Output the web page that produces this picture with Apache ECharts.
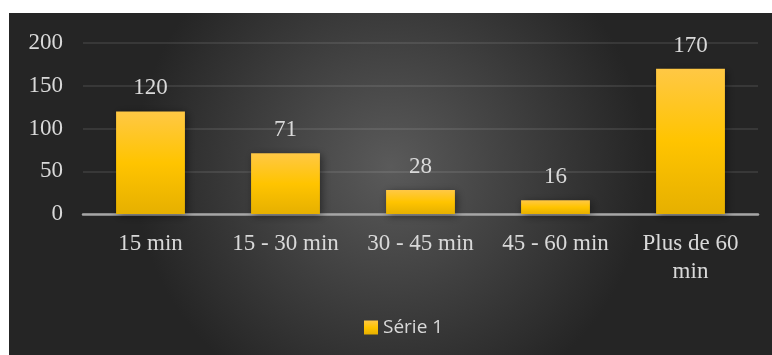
<!DOCTYPE html>
<html>
<head>
<meta charset="utf-8">
<script src="https://cdn.jsdelivr.net/npm/echarts@6/dist/echarts.min.js"></script>
<style>
html,body{margin:0;padding:0;background:#ffffff;}
#chart{width:772px;height:355px;}
</style>
</head>
<body>
<div id="chart"></div>
<script>
const categories = ['15 min', '15 - 30 min', '30 - 45 min', '45 - 60 min', 'Plus de 60\nmin'];
const serieName = 'Série 1';
const serieValues = [120, 71, 28, 16, 170];
const yTicks = { min: 0, max: 200, interval: 50 };

const chart = echarts.init(document.getElementById('chart'), null, { renderer: 'canvas' });
const textColor = '#d9d9d9';
const serif = '"Liberation Serif", "Times New Roman", serif';

chart.setOption({
  backgroundColor: '#ffffff',
  animation: false,
  graphic: [{
    type: 'rect',
    z: -10,
    silent: true,
    shape: { x: 9, y: 13, width: 763, height: 342 },
    style: {
      fill: new echarts.graphic.RadialGradient(0.5, 0.45, 0.75, [
        { offset: 0, color: '#5a5a5a' },
        { offset: 1, color: '#252525' }
      ])
    }
  }],
  grid: { left: 83, right: 14, top: 43, bottom: 141, containLabel: false },
  legend: {
    data: [serieName],
    left: 359,
    top: 313,
    itemWidth: 14,
    itemHeight: 14,
    itemGap: 5,
    icon: 'rect',
    textStyle: { color: textColor, fontSize: 19, fontFamily: '"Open Sans", "Noto Sans", sans-serif', padding: [0, 0, 0, 0] }
  },
  xAxis: {
    type: 'category',
    data: categories,
    axisLine: { show: true, lineStyle: { color: '#a6a6a6', width: 2.5 } },
    axisTick: { show: false },
    axisLabel: { color: textColor, fontSize: 23, fontFamily: serif, margin: 16, lineHeight: 28, interval: 0 },
    splitLine: { show: false }
  },
  yAxis: {
    type: 'value',
    min: yTicks.min,
    max: yTicks.max,
    interval: yTicks.interval,
    axisLine: { show: false },
    axisTick: { show: false },
    axisLabel: { color: textColor, fontSize: 23, fontFamily: serif, margin: 20 },
    splitLine: { show: true, lineStyle: { color: 'rgba(255,255,255,0.12)', width: 1.5 } }
  },
  series: [{
    name: serieName,
    type: 'bar',
    data: serieValues,
    barCategoryGap: '49%',
    itemStyle: {
      color: new echarts.graphic.LinearGradient(0, 0, 0, 1, [
        { offset: 0, color: '#ffc845' },
        { offset: 0.5, color: '#ffc400' },
        { offset: 1, color: '#e6b000' }
      ]),
      shadowColor: 'rgba(0,0,0,0.45)',
      shadowBlur: 8,
      shadowOffsetX: 2,
      shadowOffsetY: 2
    },
    label: {
      show: true,
      position: 'top',
      distance: 9,
      color: textColor,
      fontSize: 23,
      fontFamily: serif,
      lineHeight: 28
    }
  }]
});
</script>
</body>
</html>
